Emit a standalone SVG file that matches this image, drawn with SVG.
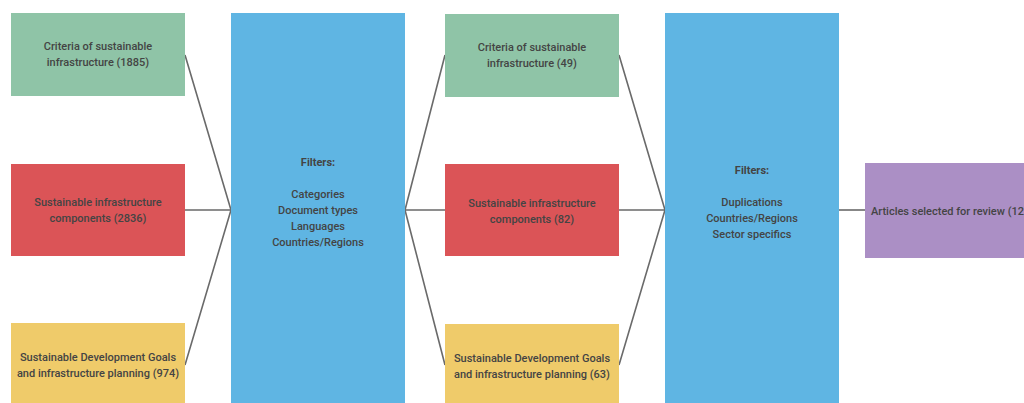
<svg xmlns="http://www.w3.org/2000/svg" width="1024" height="403" viewBox="0 0 1024 403">
<style>
text{font-family:Roboto,"Liberation Sans",sans-serif;font-size:11px;fill:#444;text-anchor:middle;font-weight:500}
.b{font-weight:bold}
.g{fill:#8fc4a7}.r{fill:#db5457}.y{fill:#efcb6a}.bl{fill:#5fb5e3}.p{fill:#ab8fc5}
.c{stroke:#6a6a6a;stroke-width:1.6;fill:none}
</style>
<rect width="1024" height="403" fill="#fff"/>
<g id="connectors">
<path class="c" d="M185,55 L231,210 M185,210 L231,210 M185,365 L231,210"/>
<path class="c" d="M405,210 L445,55 M405,210 L445,210 M405,210 L445,365"/>
<path class="c" d="M619,55 L665,210 M619,210 L665,210 M619,365 L665,210"/>
<path class="c" d="M839,210 L865,210"/>
</g>
<g id="criteria1"><rect class="g" x="11" y="13" width="174" height="83"/><text x="98" y="50">Criteria of sustainable</text><text x="98" y="66">infrastructure (1885)</text></g>
<g id="components1"><rect class="r" x="11" y="164" width="174" height="92"/><text x="98" y="206">Sustainable infrastructure</text><text x="98" y="222">components (2836)</text></g>
<g id="sdg1"><rect class="y" x="11" y="323" width="174" height="85"/><text x="98" y="361">Sustainable Development Goals</text><text x="98" y="377">and infrastructure planning (974)</text></g>
<g id="filters1"><rect class="bl" x="231" y="13" width="174" height="395"/><text class="b" x="318" y="166">Filters:</text><text x="318" y="198">Categories</text><text x="318" y="214">Document types</text><text x="318" y="230">Languages</text><text x="318" y="246">Countries/Regions</text></g>
<g id="criteria2"><rect class="g" x="445" y="14" width="174" height="83"/><text x="532" y="51">Criteria of sustainable</text><text x="532" y="67">infrastructure (49)</text></g>
<g id="components2"><rect class="r" x="445" y="164" width="174" height="92"/><text x="532" y="207">Sustainable infrastructure</text><text x="532" y="223">components (82)</text></g>
<g id="sdg2"><rect class="y" x="445" y="324" width="174" height="84"/><text x="532" y="362">Sustainable Development Goals</text><text x="532" y="378">and infrastructure planning (63)</text></g>
<g id="filters2"><rect class="bl" x="665" y="13" width="174" height="395"/><text class="b" x="752" y="174">Filters:</text><text x="752" y="206">Duplications</text><text x="752" y="222">Countries/Regions</text><text x="752" y="238">Sector specifics</text></g>
<g id="selected"><rect class="p" x="865" y="163" width="170" height="95"/><text x="871" y="215" style="text-anchor:start">Articles selected for review (12</text></g>
</svg>
